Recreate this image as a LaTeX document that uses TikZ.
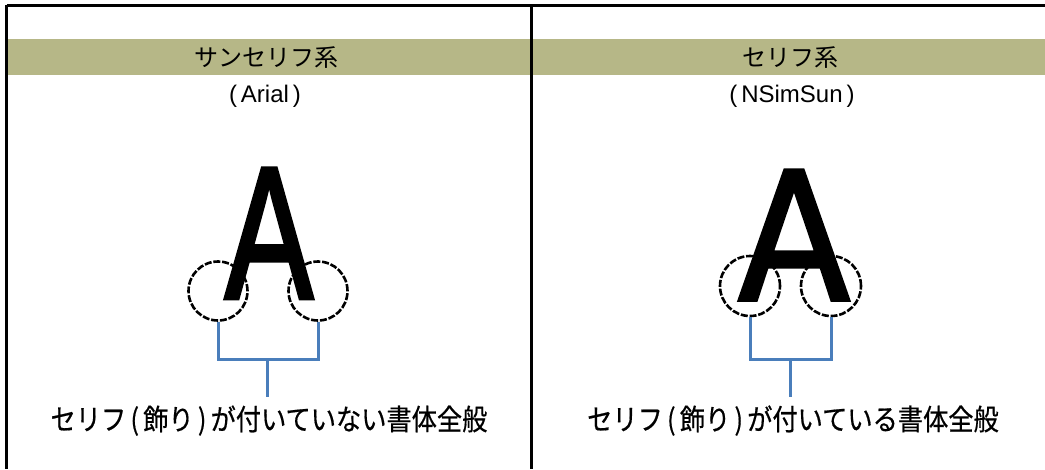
\documentclass[tikz,border=0pt]{standalone}
\usepackage{fontspec}
\setmainfont{Liberation Sans}
\newfontfamily\jp{Noto Sans CJK JP}
\newfontfamily\jpb{Noto Sans CJK JP}[FakeBold=0.6]
\newfontfamily\bigsans{Liberation Sans}[FakeBold=2.5]
\newfontfamily\bigdvs{DejaVu Sans}[FakeBold=2]
\definecolor{band}{HTML}{B6B787}
\definecolor{brk}{HTML}{4A7EBB}
\tikzset{
  frame/.style={line width=2.8pt,black},
  ring/.style={draw=black,line width=2.6pt,dash pattern=on 7pt off 1.8pt},
  bracket/.style={draw=brk,line width=3pt},
  title/.style={font=\jp\fontsize{24}{24}\selectfont,inner sep=0pt,anchor=base},
  sub/.style={font=\fontsize{24}{24}\selectfont,inner sep=0pt,anchor=base},
  desc/.style={font=\jpb\fontsize{29}{29}\selectfont,inner sep=0pt,anchor=base,xscale=0.87}
}
\begin{document}
\begin{tikzpicture}[x=1pt,y=-1pt]
\useasboundingbox (0,0) rectangle (1045,469);
\fill[band] (7,39) rectangle (1045,75);
\draw[frame] (6.7,5.5) -- (1045,5.5);
\draw[frame] (6.7,4.5) -- (6.7,469);
\draw[line width=3pt] (531.3,4.5) -- (531.3,469);
% headings
\node[title] (t1) at (266,66) {サンセリフ系};
\node[title] (t2) at (790,66) {セリフ系};
\node[sub] (s1) at (265,102) {(\,Arial\,)};
\node[sub] (s2) at (792,102) {(\,NSimSun\,)};
% big letters
\node[font=\bigsans\fontsize{188}{188}\selectfont,inner sep=0pt,anchor=base,xscale=0.7] (A1) at (269,298) {A};
\node[font=\bigdvs\fontsize{178}{178}\selectfont,inner sep=0pt,anchor=base,xscale=0.92] (A2) at (794,300) {A};
% circles
\node[ring,circle,minimum size=59pt,inner sep=0pt] (c1) at (218,291) {};
\node[ring,circle,minimum size=59pt,inner sep=0pt] (c2) at (318,291) {};
\node[ring,circle,minimum size=60pt,inner sep=0pt] (c3) at (750,286) {};
\node[ring,circle,minimum size=60pt,inner sep=0pt] (c4) at (831,286) {};
% descriptions
\node[desc] (d1) at (269,430) {セリフ\,(\,飾り\,)\,が付いていない書体全般};
\node[desc] (d2) at (793,430) {セリフ\,(\,飾り\,)\,が付いている書体全般};
% brackets
\coordinate (j1) at (267,359);
\coordinate (j2) at (790,359);
\draw[bracket] (c1.south) -- (c1.south |- j1) -- (c2.south |- j1) -- (c2.south);
\draw[bracket] (j1) -- (267,397);
\draw[bracket] (c3.south) -- (c3.south |- j2) -- (c4.south |- j2) -- (c4.south);
\draw[bracket] (j2) -- (790,397);
\end{tikzpicture}
\end{document}
